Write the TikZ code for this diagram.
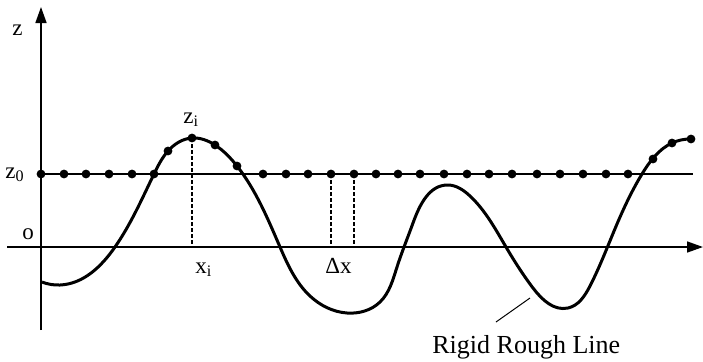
\documentclass[tikz,border=0pt]{standalone}
\usepackage{fontspec}
\setmainfont{Liberation Serif}
\usetikzlibrary{arrows.meta,hobby}

\begin{document}
\begin{tikzpicture}[
          x=0.5pt,y=-0.5pt,
          every node/.style={font=\fontsize{11.5}{13}\selectfont,inner sep=0pt},
          axis/.style={line width=0.8pt,-{Triangle[length=8pt,width=5.5pt]}},
          level/.style={line width=0.6pt},
          rough/.style={line width=1.5pt,line join=round,use Hobby shortcut},
          bead/.style={circle,fill=black,inner sep=0pt,minimum size=4.4pt},
          guide/.style={line width=0.55pt,dash pattern=on 1.8pt off 1.2pt},
      ]
        \useasboundingbox (0,0) rectangle (703,361);

        % axes and the mean level
        \coordinate (origin) at (41,247);
        \coordinate (zbot) at (41,330);
        \coordinate (ztop) at (41,7);
        \coordinate (xleft) at (7,247);
        \coordinate (xright) at (703,247);
        \coordinate (levL) at (41,174);
        \coordinate (levR) at (693,174);
        \draw[axis] (zbot) -- (ztop);
        \draw[axis] (xleft) -- (xright);
        \draw[level] (levL) -- (levR);

        % rigid rough line
        \draw[rough] (42,282) .. (60,285) .. (115,247)
          .. (154,174) .. (168,151) .. (192,138) .. (215,145) .. (237,166)
          .. (280,247) .. (310,296) .. (347,313) .. (380,302) .. (397,267)
          .. (413,223) .. (448,185) .. (470,196) .. (506,247)
          .. (533,288) .. (568,308) .. (590,286) .. (617,224) .. (642,174)
          .. (672,143) .. (691,139);

        % beads on the level and on the line
        \foreach \x in {41,64,86,109,132,263,286,308,331,354,376,398,420,
                        444,467,489,512,537,560,583,606,628}
          \node[bead] (b\x) at (\x,174) {};
        \node[bead] (c1) at (154,174) {};
        \node[bead] (c2) at (168,151) {};
        \node[bead] (c3) at (192,138) {};
        \node[bead] (c4) at (215,145) {};
        \node[bead] (c5) at (237,166) {};
        \node[bead] (c6) at (653,159) {};
        \node[bead] (c7) at (672,143) {};
        \node[bead] (c8) at (691,139) {};

        \draw[guide] (c3.center) -- (c3 |- origin);
        \draw[guide] (b331.center) -- (b331 |- origin);
        \draw[guide] (b354.center) -- (b354 |- origin);

        % labels
        \node[anchor=base west] (zlab) at (12,35) {z};
        \node[anchor=base west] (zerolab) at (5,178) {z\textsubscript{0}};
        \node[anchor=base west] (olab) at (22,239) {o};
        \node[anchor=base west] (zilab) at (183,123) {z\textsubscript{i}};
        \node[anchor=base west] (xilab) at (195,273) {x\textsubscript{i}};
        \node[anchor=base west] (dxlab) at (325,273) {Δx};
        \node[anchor=base west,font=\fontsize{13}{15}\selectfont] (linelab) at (432,353)
          {Rigid Rough Line};
        \coordinate (lead) at (496,322);
        \coordinate (tip) at (530,298);
        \draw[line width=0.5pt] (lead) -- (tip);
      \end{tikzpicture}
\end{document}
